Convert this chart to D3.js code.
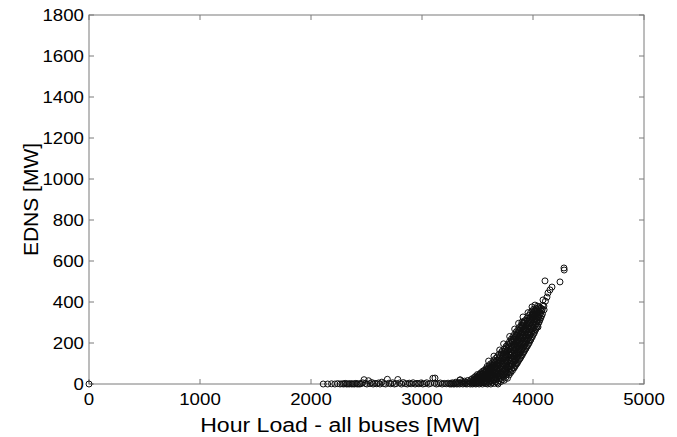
<!DOCTYPE html>
<html>
<head>
<meta charset="utf-8">
<script src="https://cdn.jsdelivr.net/npm/d3@7"></script>
<style>
  body { margin: 0; background: #fff; }
  text { font-family: "Liberation Sans", Arial, Helvetica, sans-serif; fill: #000; }
</style>
</head>
<body>
<svg width="677" height="437"></svg>
<script>
// ticks
var xTicks = [0, 1000, 2000, 3000, 4000, 5000];
var yTicks = [0, 200, 400, 600, 800, 1000, 1200, 1400, 1600, 1800];

// hour load [MW], EDNS [MW]
var flatPart = [
  [2110,0],[2150,0],[2185,1],[2215,0],[2240,2],[2262,0],[2280,1],[2295,0],[2308,3],[2320,0],
  [2332,1],[2344,0],[2356,2],[2368,0],[2380,1],[2392,0],[2404,3],[2416,0],[2428,1],[2440,0],
  [2452,2],[2465,6],[2478,21],[2490,3],[2503,0],[2518,16],[2532,2],[2547,7],[2560,0],[2575,3],
  [2592,1],[2608,5],[2622,0],[2638,9],[2655,2],[2672,0],[2688,23],[2702,4],[2718,1],[2735,6],
  [2752,0],[2768,2],[2782,22],[2798,5],[2815,0],[2832,7],[2850,2],[2868,0],[2885,4],[2902,1],
  [2920,6],[2938,0],[2955,3],[2972,1],[2990,5],[3008,0],[3025,2],[3042,6],[3060,0],[3078,3],
  [3098,28],[3112,4],[3130,0],[3148,2],[3165,5],[3182,0],[3200,3],[3218,1],[3235,4],
  [3250,0],[3258,3],[3266,0],[3274,6],[3282,1],[3290,0],[3298,4],[3306,9],[3314,0],[3322,2],
  [3330,7],[3338,0],[3345,20],[3352,3],[3360,11],[3368,0],[3375,5],[3383,14],[3390,1],[3398,8],
  [3405,0],[3412,17],[3420,4],[3427,11],[3434,0],[3441,21],[3448,6]
];

var risingPart = [
  [3455,0],[3457,12],[3454,26],[3470,2],[3468,16],[3472,32],
  [3485,0],[3483,10],[3487,24],[3484,38],[3500,3],[3498,18],[3502,34],[3499,46],
  [3515,0],[3513,12],[3517,28],[3514,44],[3530,4],[3528,22],[3532,38],[3529,54],
  [3545,0],[3543,14],[3547,32],[3544,50],[3546,62],[3560,6],[3558,24],[3562,44],[3559,66],
  [3575,2],[3573,18],[3577,38],[3574,58],[3576,74],[3590,0],[3588,12],[3592,32],[3589,52],[3591,72],[3587,86],
  [3605,4],[3603,24],[3607,46],[3604,68],[3606,90],[3620,0],[3618,16],[3622,38],[3619,60],[3621,82],[3617,98],
  [3635,8],[3633,30],[3637,54],[3634,78],[3636,104],[3650,3],[3648,22],[3652,46],[3649,70],[3651,94],[3647,114],
  [3665,10],[3663,34],[3667,58],[3664,84],[3666,110],[3662,124],[3680,6],[3678,26],[3682,50],[3679,76],[3681,102],[3677,132],
  [3695,16],[3693,40],[3697,66],[3694,92],[3696,118],[3692,144],
  [3710,12],[3708,34],[3712,58],[3709,84],[3711,112],[3707,138],[3713,152],
  [3725,22],[3723,48],[3727,74],[3724,100],[3726,128],[3722,160],
  [3740,18],[3738,42],[3742,68],[3739,96],[3741,124],[3737,150],[3743,172],
  [3755,32],[3753,58],[3757,86],[3754,114],[3756,142],[3752,168],[3758,184],
  [3770,28],[3768,52],[3772,80],[3769,108],[3771,136],[3767,164],[3773,194],
  [3785,44],[3783,72],[3787,100],[3784,128],[3786,156],[3782,184],[3788,206],
  [3800,56],[3798,84],[3802,112],[3799,140],[3801,168],[3797,196],[3803,218],
  [3815,66],[3813,94],[3817,122],[3814,150],[3816,178],[3812,206],[3818,230],
  [3830,78],[3828,106],[3832,134],[3829,162],[3831,190],[3827,218],[3833,242],
  [3845,92],[3843,120],[3847,148],[3844,176],[3846,204],[3842,232],[3848,254],
  [3860,104],[3858,132],[3862,160],[3859,188],[3861,216],[3857,244],[3863,264],
  [3875,118],[3873,146],[3877,174],[3874,202],[3876,230],[3872,258],[3878,276],
  [3890,130],[3888,158],[3892,186],[3889,214],[3891,242],[3887,270],[3893,286],
  [3905,144],[3903,172],[3907,200],[3904,228],[3906,256],[3902,282],[3908,298],
  [3920,158],[3918,186],[3922,214],[3919,242],[3921,270],[3917,296],[3923,308],
  [3935,172],[3933,200],[3937,228],[3934,256],[3936,284],[3932,310],
  [3950,186],[3948,214],[3952,242],[3949,270],[3951,298],[3947,322],
  [3965,200],[3963,228],[3967,256],[3964,284],[3966,312],[3962,334],
  [3980,216],[3978,244],[3982,272],[3979,300],[3981,326],[3977,346],
  [3995,232],[3993,260],[3997,288],[3994,316],[3996,340],[3992,356],
  [4010,248],[4008,276],[4012,304],[4009,330],[4011,354],[4007,366],
  [4025,266],[4023,292],[4027,318],[4024,344],[4026,368],
  [4040,284],[4038,310],[4042,336],[4039,360],[4041,380],
  [4055,302],[4053,328],[4057,352],[4054,376],
  [4070,322],[4068,346],[4072,370],
  [4085,342],[4083,364],[4087,384],
  [4100,362],[4098,380]
];

// densest middle of the band
var bandCore = [
  [3462,6],[3462,20],[3477,8],[3477,24],[3492,5],[3492,17],[3492,30],
  [3507,9],[3507,26],[3507,40],[3522,6],[3522,20],[3522,36],[3522,48],
  [3537,12],[3537,30],[3537,46],[3552,8],[3552,26],[3552,42],[3552,56],
  [3567,14],[3567,34],[3567,54],[3582,8],[3582,28],[3582,48],[3582,66],
  [3597,20],[3597,42],[3597,62],[3597,78],[3612,12],[3612,34],[3612,56],[3612,78],
  [3627,26],[3627,48],[3627,72],[3627,90],[3642,18],[3642,42],[3642,66],[3642,90],
  [3657,34],[3657,58],[3657,82],[3657,104],[3672,22],[3672,46],[3672,70],[3672,96],[3672,116],
  [3687,38],[3687,62],[3687,88],[3687,114],[3702,26],[3702,50],[3702,76],[3702,102],[3702,128],
  [3717,46],[3717,72],[3717,98],[3717,124],[3717,146],[3732,36],[3732,62],[3732,88],[3732,114],[3732,140],
  [3747,50],[3747,76],[3747,104],[3747,132],[3747,158],[3762,46],[3762,72],[3762,100],[3762,128],[3762,156],[3762,178],
  [3777,62],[3777,90],[3777,118],[3777,146],[3777,174],[3792,58],[3792,86],[3792,114],[3792,142],[3792,170],[3792,196],
  [3807,72],[3807,100],[3807,128],[3807,156],[3807,184],[3807,210],
  [3822,80],[3822,108],[3822,136],[3822,164],[3822,192],[3822,220],
  [3837,86],[3837,114],[3837,142],[3837,170],[3837,198],[3837,226],
  [3852,98],[3852,126],[3852,154],[3852,182],[3852,210],[3852,238],
  [3867,112],[3867,140],[3867,168],[3867,196],[3867,224],[3867,252],
  [3882,124],[3882,152],[3882,180],[3882,208],[3882,236],[3882,262],
  [3897,138],[3897,166],[3897,194],[3897,222],[3897,250],[3897,276],
  [3912,152],[3912,180],[3912,208],[3912,236],[3912,264],[3912,288],
  [3927,166],[3927,194],[3927,222],[3927,250],[3927,278],
  [3942,180],[3942,208],[3942,236],[3942,264],[3942,292],
  [3957,194],[3957,222],[3957,250],[3957,278],[3957,306],
  [3972,210],[3972,238],[3972,266],[3972,294],[3972,320],
  [3987,226],[3987,254],[3987,282],[3987,310],[3987,334],
  [4002,242],[4002,270],[4002,298],[4002,324],[4002,346],
  [4017,258],[4017,286],[4017,312],[4017,338],[4017,358],
  [4032,276],[4032,302],[4032,328],[4032,354],[4047,294],[4047,320],[4047,346],[4047,370],
  [4062,312],[4062,338],[4062,362],[4077,332],[4077,356]
];

var outliers = [
  [0,0],[3117,29],[3342,20],[3685,0],[3600,112],[3648,136],[3700,166],[3735,196],
  [3790,232],[3835,268],[3870,296],[3900,302],[3910,327],[3955,348],[3991,376],[4018,385],
  [4045,278],[4090,410],[4112,404],[4126,424],[4135,444],[4153,459],[4171,473],
  [4108,503],[4243,498],[4279,566],[4281,556]
];

var svg = d3.select("svg"),
    margin = {top: 15, right: 33, bottom: 53, left: 89},
    width = 677 - margin.left - margin.right,
    height = 437 - margin.top - margin.bottom;

var x = d3.scaleLinear().domain([0, 5000]).range([0, width]);
var y = d3.scaleLinear().domain([0, 1800]).range([height, 0]);

var g = svg.append("g")
    .attr("transform", "translate(" + margin.left + "," + margin.top + ")");

var axisColor = "#7a7a7a";
var stretch = 1.1; // the original figure is a bit wider than tall

// box frame
g.append("rect")
    .attr("width", width).attr("height", height)
    .attr("fill", "none").attr("stroke", axisColor).attr("stroke-width", 1);

// ticks point inward like matlab, on all four sides
g.selectAll(".xt").data(xTicks).enter().append("path")
    .attr("d", d => "M" + x(d) + "," + height + "v-5M" + x(d) + ",0v5")
    .attr("stroke", axisColor);
g.selectAll(".yt").data(yTicks).enter().append("path")
    .attr("d", d => "M0," + y(d) + "h5M" + width + "," + y(d) + "h-5")
    .attr("stroke", axisColor);

g.selectAll(".xl").data(xTicks).enter().append("text")
    .attr("transform", d => "translate(" + x(d) + "," + (height + 21) + ") scale(" + stretch + ",1)")
    .attr("text-anchor", "middle")
    .attr("font-size", 17)
    .text(d => d);

g.selectAll(".yl").data(yTicks).enter().append("text")
    .attr("transform", d => "translate(-5," + (y(d) + 6) + ") scale(" + stretch + ",1)")
    .attr("text-anchor", "end")
    .attr("font-size", 17)
    .text(d => d);

// the points
var allPoints = flatPart.concat(risingPart, bandCore, outliers);
g.selectAll("circle").data(allPoints).enter().append("circle")
    .attr("cx", d => x(d[0]))
    .attr("cy", d => y(d[1]))
    .attr("r", 3)
    .attr("fill", "none")
    .attr("stroke", "#111")
    .attr("stroke-width", 1);

// axis titles
svg.append("text")
    .attr("transform", "translate(340,432) scale(" + stretch + ",1)")
    .attr("text-anchor", "middle")
    .attr("font-size", 21)
    .text("Hour Load - all buses [MW]");

svg.append("text")
    .attr("transform", "translate(38," + (margin.top + height / 2) + ") rotate(-90)")
    .attr("text-anchor", "middle")
    .attr("font-size", 21)
    .text("EDNS [MW]");
</script>
</body>
</html>
